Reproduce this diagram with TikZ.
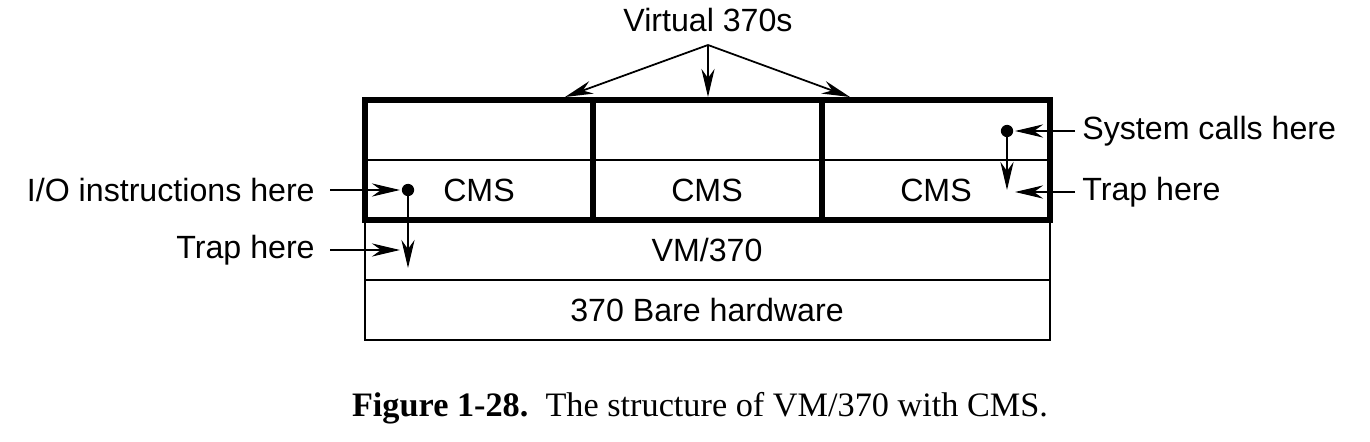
\documentclass[tikz,border=0pt]{standalone}
\usepackage{fontspec}
\setmainfont{Liberation Serif}
\setsansfont{Liberation Sans}
\usetikzlibrary{arrows.meta,positioning}
\tikzset{
  label/.style = {font=\sffamily\fontsize{18.3}{21}\selectfont, inner sep=0pt},
  thin box/.style = {draw, line width=1.2pt},
  thick box/.style = {draw, line width=3pt},
  pointer/.style = {line width=1pt, -{Stealth[length=16pt,width=7.5pt]}},
  dot/.style = {circle, fill, inner sep=0pt, minimum size=7pt}
}
\begin{document}
\begin{tikzpicture}[x=0.02cm,y=-0.02cm]
\useasboundingbox (0,0) rectangle (1370,442);
% layers
\draw[thin box] (365,220) rectangle (1050,340);
\draw[thin box] (365,280) -- (1050,280);
\draw[thin box] (365,160) -- (1050,160);
\draw[thick box] (365,100) rectangle (1050,220);
\draw[thick box] (593,100) -- (593,220);
\draw[thick box] (822,100) -- (822,220);
\node[label] (cms1) at (479,190) {CMS};
\node[label] (cms2) at (707,190) {CMS};
\node[label] (cms3) at (936,190) {CMS};
\node[label] (vm) at (707,250) {VM/370};
\node[label] (hw) at (707,310) {370 Bare hardware};
% virtual machines
\node[label] (virt) at (708,20) {Virtual 370s};
\coordinate (v1) at (565,97);
\coordinate (v2) at (708,97);
\coordinate (v3) at (850,97);
\foreach \v in {v1,v2,v3}
  \draw[pointer] (708,45) -- (\v);
% right side
\node[dot] (sc) at (1007,131) {};
\coordinate (tr) at (1007,190);
\draw[pointer] (sc) -- (tr);
\node[label, anchor=west] (sys) at (1082,131) {System calls here};
\node[label, anchor=west] (trapr) at (1082,192) {Trap here};
\draw[pointer] (sys.west) ++(-7,0) -- (1015,131);
\draw[pointer] (trapr.west) ++(-7,0) -- (1015,192);
% left side
\node[dot] (io) at (408,190) {};
\coordinate (tl) at (408,268);
\draw[pointer] (io) -- (tl);
\node[label, anchor=east] (iot) at (315,190) {I/O instructions here};
\node[label, anchor=east] (trapl) at (315,250) {Trap here};
\draw[pointer] (iot.east) ++(15,0) -- (400,190);
\draw[pointer] (trapl.east) ++(15,0) -- (400,250);
% caption
\node[font=\fontsize{19.5}{23}\selectfont, inner sep=0pt] (cap) at (700,408)
  {\textbf{Figure 1-28.}\ \ The structure of VM/370 with CMS.};
\end{tikzpicture}
\end{document}
